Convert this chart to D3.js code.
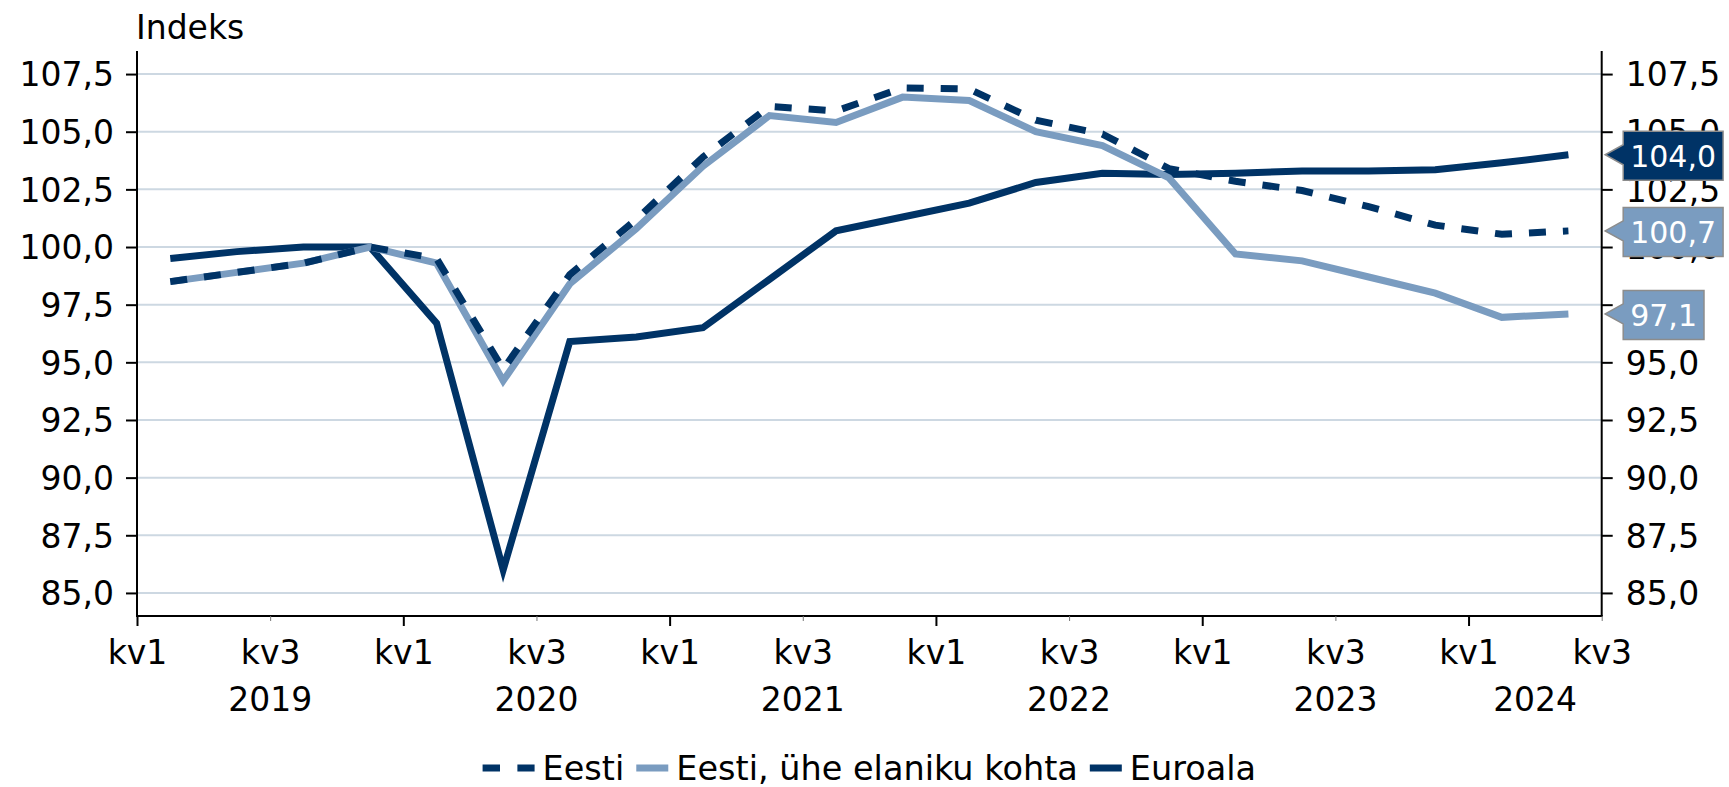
<!DOCTYPE html>
<html>
<head>
<meta charset="utf-8">
<script src="https://cdn.jsdelivr.net/npm/d3@7"></script>
<style>
  body { margin: 0; background: #fff; }
  svg text { font-family: "DejaVu Sans", Verdana, sans-serif; fill: #000; }
</style>
</head>
<body>
<svg id="chart" width="1729" height="787"></svg>
<script>
/* ===== Data ===== */
const quarters = [
  "2019 kv1", "2019 kv2", "2019 kv3", "2019 kv4",
  "2020 kv1", "2020 kv2", "2020 kv3", "2020 kv4",
  "2021 kv1", "2021 kv2", "2021 kv3", "2021 kv4",
  "2022 kv1", "2022 kv2", "2022 kv3", "2022 kv4",
  "2023 kv1", "2023 kv2", "2023 kv3", "2023 kv4",
  "2024 kv1", "2024 kv2"
];
const eesti = [98.5, 98.9, 99.3, 100.0, 99.5, 94.7, 98.8, 101.2, 103.9, 106.1, 105.9, 106.9,
  106.85, 105.5, 104.9, 103.4, 102.85, 102.45, 101.75, 100.95, 100.55, 100.7];
const eestiPerCapita = [98.5, 98.9, 99.3, 100.0, 99.3, 94.2, 98.4, 100.8, 103.5, 105.7, 105.4, 106.5,
  106.35, 105.0, 104.4, 103.0, 99.7, 99.4, 98.7, 98.0, 96.95, 97.1];
const euroala = [99.5, 99.8, 100.0, 100.0, 96.7, 86.0, 95.9, 96.1, 96.5, 98.6, 100.7, 101.3,
  101.9, 102.8, 103.2, 103.15, 103.2, 103.3, 103.3, 103.35, 103.65, 104.0];

const yTicks = [85, 87.5, 90, 92.5, 95, 97.5, 100, 102.5, 105, 107.5];
const xTickLabels = ["kv1", "kv3", "kv1", "kv3", "kv1", "kv3", "kv1", "kv3", "kv1", "kv3", "kv1", "kv3"];
const years = ["2019", "2020", "2021", "2022", "2023", "2024"];
const seriesNames = ["Eesti", "Eesti, ühe elaniku kohta", "Euroala"];

/* ===== Style ===== */
const DARK = "#003366";
const LIGHT = "#7a9cc0";
const GRID = "#cdd8e2";
const FONT = 33;

const plotL = 137, plotR = 1601.7, plotT = 51, plotB = 616;

const svg = d3.select("#chart");

const x = d3.scaleLinear().domain([0, quarters.length]).range([plotL, plotR]);
const y = d3.scaleLinear().domain([84, 108.5]).range([plotB, plotT]);
const fmt = v => d3.format(".1f")(v).replace(".", ",");

/* ===== Grid ===== */
svg.append("g")
  .selectAll("line")
  .data(yTicks)
  .join("line")
  .attr("x1", plotL).attr("x2", plotR)
  .attr("y1", d => y(d)).attr("y2", d => y(d))
  .attr("stroke", GRID)
  .attr("stroke-width", 2);

/* ===== Axes ===== */
function styleAxis(g) {
  g.select(".domain").remove();
  g.selectAll(".tick line").attr("stroke", "#000").attr("stroke-width", 2);
  g.selectAll(".tick text")
    .attr("font-size", FONT)
    .attr("dy", "0.36em")
    .attr("font-family", "DejaVu Sans, Verdana, sans-serif");
}

svg.append("g")
  .attr("transform", `translate(${plotL},0)`)
  .call(d3.axisLeft(y).tickValues(yTicks).tickFormat(fmt).tickSize(11).tickPadding(12))
  .call(styleAxis);

svg.append("g")
  .attr("transform", `translate(${plotR},0)`)
  .call(d3.axisRight(y).tickValues(yTicks).tickFormat(fmt).tickSize(11).tickPadding(13))
  .call(styleAxis);

// axis lines
svg.append("line").attr("x1", plotL).attr("x2", plotL).attr("y1", plotT).attr("y2", plotB)
  .attr("stroke", "#000").attr("stroke-width", 2);
svg.append("line").attr("x1", plotR).attr("x2", plotR).attr("y1", plotT).attr("y2", plotB)
  .attr("stroke", "#000").attr("stroke-width", 2);
svg.append("line").attr("x1", plotL - 1).attr("x2", plotR + 1).attr("y1", plotB).attr("y2", plotB)
  .attr("stroke", "#000").attr("stroke-width", 2);

// x ticks (every half year)
const xTickVals = d3.range(0, quarters.length + 1, 2);
const xAxis = svg.append("g")
  .attr("transform", `translate(0,${plotB})`)
  .call(d3.axisBottom(x).tickValues(xTickVals).tickFormat((d, i) => xTickLabels[i]).tickSize(10));
xAxis.select(".domain").remove();
xAxis.selectAll(".tick line")
  .attr("stroke", (d) => d % 4 === 0 ? "#000" : "#777")
  .attr("stroke-width", (d) => d % 4 === 0 ? 2 : 1)
  .attr("y2", (d) => d % 4 === 0 ? 10 : 5);
xAxis.selectAll(".tick text")
  .attr("font-size", FONT)
  .attr("dy", null)
  .attr("y", 48);

// years
svg.append("g")
  .selectAll("text")
  .data(years)
  .join("text")
  .attr("x", (d, i) => x((i * 4 + Math.min(i * 4 + 4, quarters.length)) / 2))
  .attr("y", 711)
  .attr("text-anchor", "middle")
  .attr("font-size", FONT)
  .text(d => d);

// unit
svg.append("text")
  .attr("x", 136).attr("y", 39)
  .attr("font-size", FONT)
  .text("Indeks");

/* ===== Lines ===== */
const line = d3.line()
  .x((d, i) => x(i + 0.5))
  .y(d => y(d));

const series = [
  { name: seriesNames[2], values: euroala, color: DARK, dash: null },
  { name: seriesNames[1], values: eestiPerCapita, color: LIGHT, dash: null },
  { name: seriesNames[0], values: eesti, color: DARK, dash: "17,17" }
];

svg.append("g")
  .selectAll("path")
  .data(series)
  .join("path")
  .attr("d", d => line(d.values))
  .attr("fill", "none")
  .attr("stroke", d => d.color)
  .attr("stroke-width", 7)
  .attr("stroke-linejoin", "miter")
  .attr("stroke-dasharray", d => d.dash);

/* ===== End labels ===== */
const lastIdx = quarters.length - 1;
const endLabels = [
  { value: euroala[lastIdx], fill: DARK },
  { value: eesti[lastIdx], fill: LIGHT },
  { value: eestiPerCapita[lastIdx], fill: LIGHT }
];

endLabels.forEach(l => {
  const g = svg.append("g");
  const vy = y(l.value);
  const tipX = plotR + 3.5, boxX = tipX + 18, h = 49;
  const t = g.append("text")
    .attr("font-size", 30)
    .style("fill", "#fff")
    .text(fmt(l.value));
  const w = t.node().getComputedTextLength() + 14;
  const by = vy - h / 2 + 1;
  g.insert("path", "text")
    .attr("d", `M${tipX},${vy} L${boxX},${vy - 10} L${boxX},${by} L${boxX + w},${by} L${boxX + w},${by + h} L${boxX},${by + h} L${boxX},${vy + 10} Z`)
    .attr("fill", l.fill)
    .attr("stroke", "#8c8c8c")
    .attr("stroke-width", 1.5);
  t.attr("x", boxX + 7).attr("y", vy + 1 + 30 * 0.36);
});

/* ===== Legend ===== */
const legendY = 768;
const legend = svg.append("g");
const items = [
  { name: seriesNames[0], color: DARK, dash: "17.4,17.4", len: 52 },
  { name: seriesNames[1], color: LIGHT, dash: null, len: 32 },
  { name: seriesNames[2], color: DARK, dash: null, len: 32 }
];
let cx = 0;
items.forEach(it => {
  legend.append("line")
    .attr("x1", cx).attr("x2", cx + it.len)
    .attr("y1", legendY).attr("y2", legendY)
    .attr("stroke", it.color)
    .attr("stroke-width", 7)
    .attr("stroke-dasharray", it.dash);
  cx += it.len + 8;
  const txt = legend.append("text")
    .attr("x", cx).attr("y", 780)
    .attr("font-size", 33.5)
    .text(it.name);
  cx += txt.node().getComputedTextLength() + 12;
});
const legendW = cx - 12;
legend.attr("transform", `translate(${(plotL + plotR) / 2 - legendW / 2},0)`);
</script>
</body>
</html>
